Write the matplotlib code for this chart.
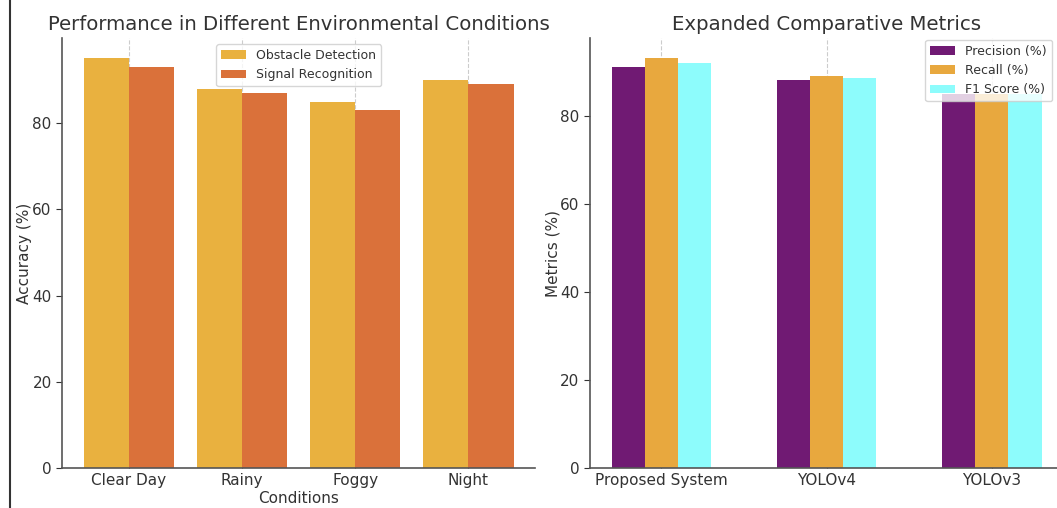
import matplotlib
matplotlib.use("Agg")
import matplotlib.pyplot as plt
import numpy as np
from matplotlib.lines import Line2D

conditions = ["Clear Day", "Rainy", "Foggy", "Night"]
obstacle_detection = [95, 88, 85, 90]
signal_recognition = [93, 87, 83, 89]

systems = ["Proposed System", "YOLOv4", "YOLOv3"]
precision = [91, 88, 85]
recall = [93, 89, 85]
f1_score = [92, 88.5, 85]

TXT = "#333333"
plt.rcParams.update({
    "font.family": "DejaVu Sans",
    "text.color": TXT,
    "axes.labelcolor": TXT,
    "xtick.color": TXT,
    "ytick.color": TXT,
    "axes.edgecolor": "#555555",
})

fig = plt.figure(figsize=(10.57, 5.08), dpi=100)
ax1 = fig.add_axes([0.0587, 0.0787, 0.4475, 0.8465])
ax2 = fig.add_axes([0.5582, 0.0787, 0.4475, 0.8465])

def style(ax):
    for s in ["top", "right"]:
        ax.spines[s].set_visible(False)
    ax.spines["left"].set_linewidth(1.2)
    ax.spines["bottom"].set_linewidth(1.2)
    ax.grid(axis="x", linestyle="--", color="#cccccc", linewidth=0.8)
    ax.set_axisbelow(True)
    ax.tick_params(axis="y", labelsize=11, length=4)
    ax.tick_params(axis="x", labelsize=11, length=3, direction="in")

x1 = np.arange(len(conditions))
w1 = 0.4
ax1.bar(x1 - w1 / 2, obstacle_detection, w1, color="#E9B13F", label="Obstacle Detection")
ax1.bar(x1 + w1 / 2, signal_recognition, w1, color="#DA713A", label="Signal Recognition")
ax1.set_xticks(x1)
ax1.set_xticklabels(conditions)
ax1.set_xlabel("Conditions", fontsize=11, labelpad=2)
ax1.set_ylabel("Accuracy (%)", fontsize=11, labelpad=0)
ax1.set_title("Performance in Different Environmental Conditions", fontsize=14.2, color=TXT)
style(ax1)
ax1.legend(loc="upper center", fontsize=9, framealpha=0.8, edgecolor="#cccccc")

x2 = np.arange(len(systems))
w2 = 0.2
ax2.bar(x2 - w2, precision, w2, color="#701A73", label="Precision (%)")
ax2.bar(x2, recall, w2, color="#E8A83E", label="Recall (%)")
ax2.bar(x2 + w2, f1_score, w2, color="#8DFCFC", label="F1 Score (%)")
ax2.set_xticks(x2)
ax2.set_xticklabels(systems)
ax2.set_ylabel("Metrics (%)", fontsize=11, labelpad=0)
ax2.set_title("Expanded Comparative Metrics", fontsize=14.2, color=TXT)
style(ax2)
ax2.legend(loc="upper right", bbox_to_anchor=(0.99, 1.01), fontsize=9, framealpha=0.8, edgecolor="#cccccc")

fig.add_artist(Line2D([0.0095, 0.0095], [0.0, 1.0], transform=fig.transFigure, color="#333333", linewidth=1.5))

fig.savefig("out.png", dpi=100)
